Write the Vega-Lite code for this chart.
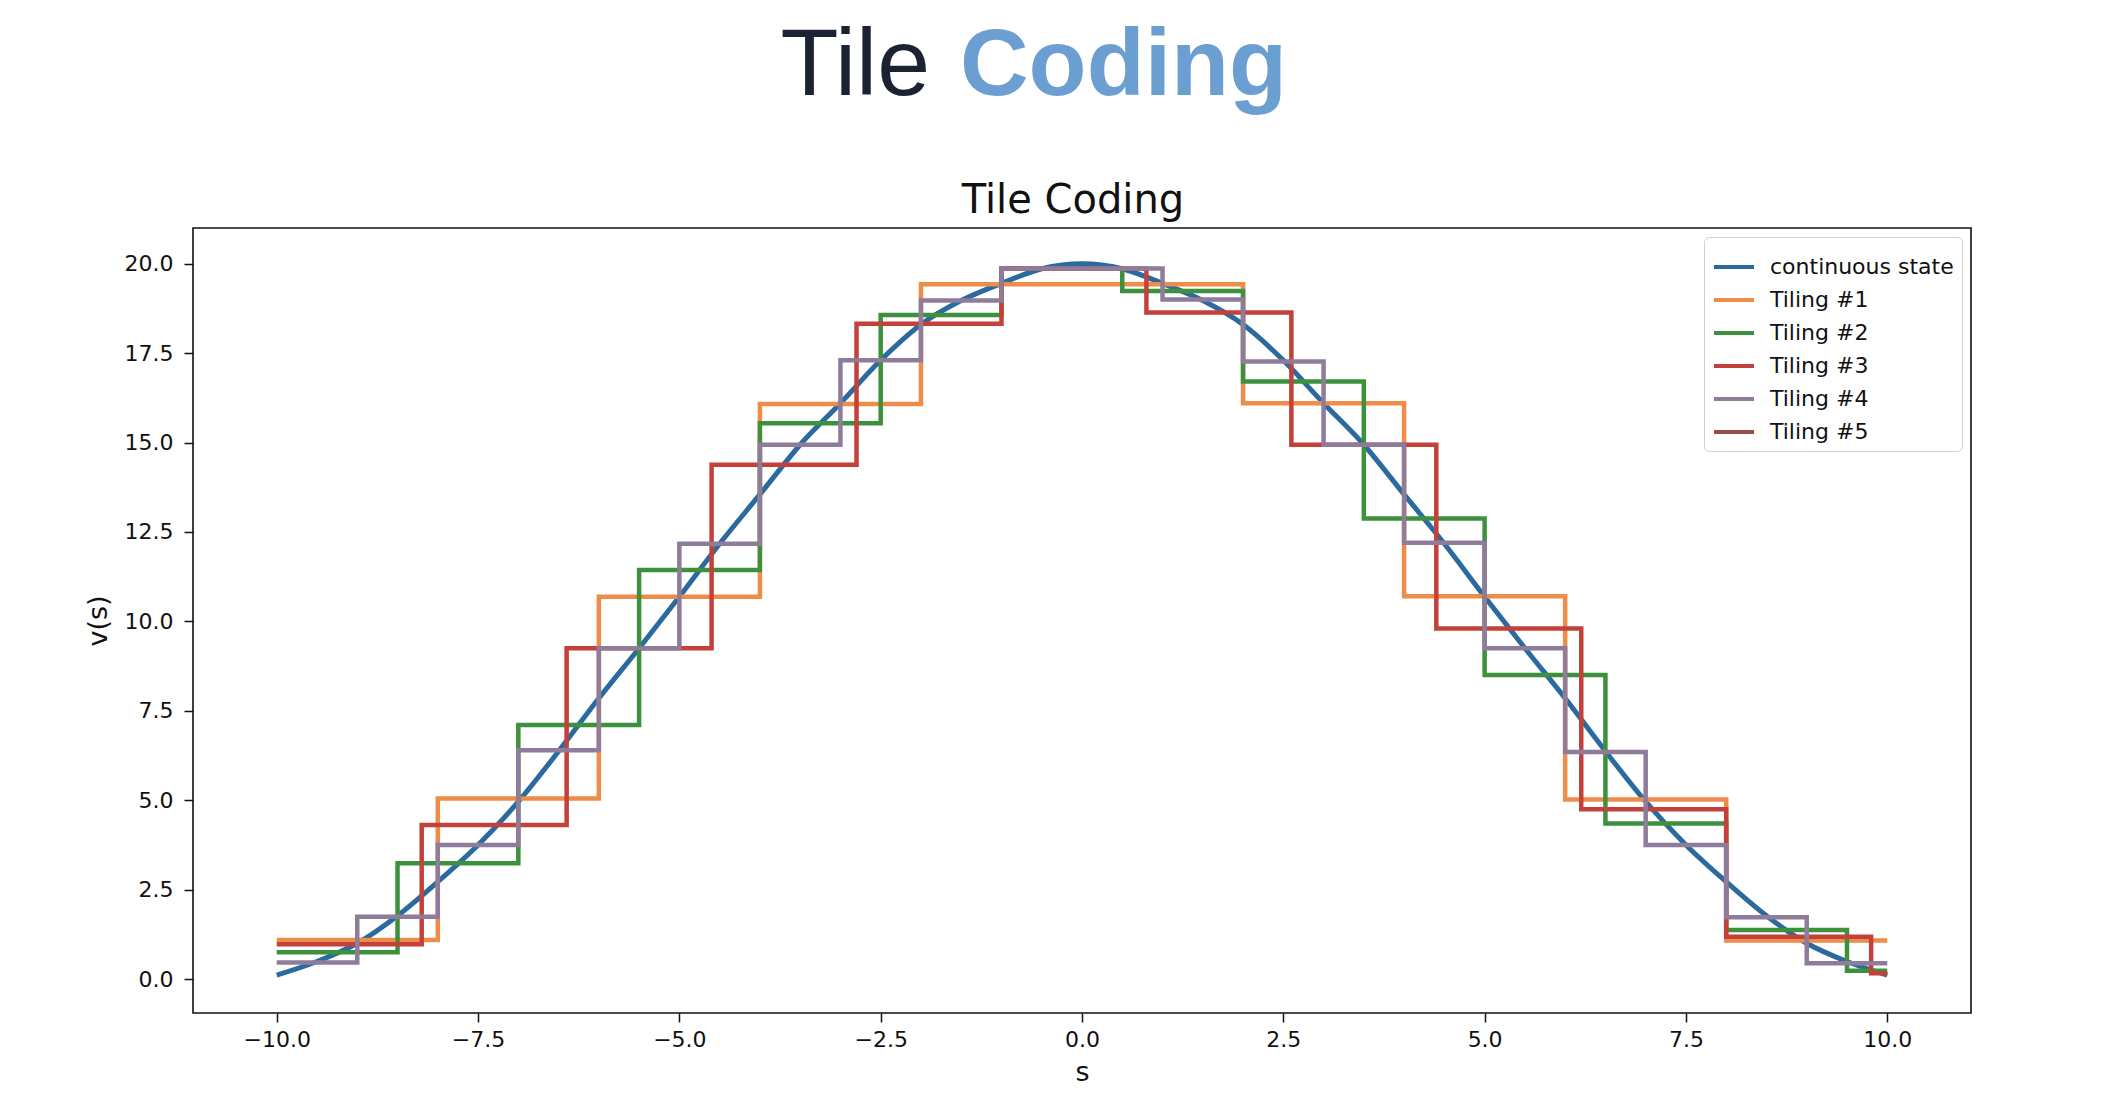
{
  "$schema": "https://vega.github.io/schema/vega-lite/v6.json",
  "background": "white",
  "padding": {"left": 83, "top": 19, "right": 140, "bottom": 24},
  "spacing": 20,
  "resolve": {"legend": {"color": "independent"}},
  "config": {
    "view": {"stroke": "#111111", "strokeWidth": 1.6},
    "axis": {
      "domain": false,
      "grid": false,
      "tickColor": "#111111",
      "tickSize": 9,
      "tickWidth": 1.5,
      "labelFont": "DejaVu Sans",
      "labelFontSize": 22,
      "labelColor": "#111111",
      "titleFont": "DejaVu Sans",
      "titleFontSize": 27,
      "titleFontWeight": "normal",
      "titleColor": "#111111"
    },
    "legend": {
      "orient": "top-right",
      "offset": 9,
      "padding": 8,
      "fillColor": "#ffffff",
      "strokeColor": "#cfcfcf",
      "cornerRadius": 5,
      "symbolType": "stroke",
      "symbolSize": 1600,
      "symbolStrokeWidth": 4,
      "labelFont": "DejaVu Sans",
      "labelFontSize": 22,
      "labelColor": "#111111",
      "labelOffset": 14,
      "labelLimit": 400,
      "rowPadding": 0
    }
  },
  "vconcat": [
    {
      "width": 1504,
      "height": 130,
      "view": {"stroke": null},
      "data": {"values": [{"word": "Tile"}, {"word": "Coding"}]},
      "layer": [
        {
          "transform": [{"filter": "datum.word === 'Tile'"}],
          "mark": {"type": "text", "align": "right", "baseline": "alphabetic", "dx": -15, "font": "Liberation Sans", "fontSize": 95, "color": "#1b2232"},
          "encoding": {"text": {"field": "word"}}
        },
        {
          "transform": [{"filter": "datum.word === 'Coding'"}],
          "mark": {"type": "text", "align": "left", "baseline": "alphabetic", "dx": 15, "font": "Liberation Sans", "fontSize": 95, "fontWeight": "bold", "color": "#6c9fd1"},
          "encoding": {"text": {"field": "word"}}
        }
      ]
    },
    {
      "width": 1778,
      "height": 785,
      "title": {"text": "Tile Coding", "font": "DejaVu Sans", "fontSize": 40, "fontWeight": "normal", "color": "#111111", "offset": 7, "dx": -9},
      "data": {
        "values": [
          {"series": "continuous state", "s": -10, "v": 0.11},
          {"series": "continuous state", "s": -9.5, "v": 0.49},
          {"series": "continuous state", "s": -9, "v": 1.0},
          {"series": "continuous state", "s": -8.5, "v": 1.77},
          {"series": "continuous state", "s": -8, "v": 2.72},
          {"series": "continuous state", "s": -7.5, "v": 3.75},
          {"series": "continuous state", "s": -7, "v": 4.96},
          {"series": "continuous state", "s": -6.5, "v": 6.37},
          {"series": "continuous state", "s": -6, "v": 7.85},
          {"series": "continuous state", "s": -5.5, "v": 9.25},
          {"series": "continuous state", "s": -5, "v": 10.69},
          {"series": "continuous state", "s": -4.5, "v": 12.17},
          {"series": "continuous state", "s": -4, "v": 13.55},
          {"series": "continuous state", "s": -3.5, "v": 14.94},
          {"series": "continuous state", "s": -3, "v": 16.1},
          {"series": "continuous state", "s": -2.5, "v": 17.3},
          {"series": "continuous state", "s": -2, "v": 18.3},
          {"series": "continuous state", "s": -1.5, "v": 18.97},
          {"series": "continuous state", "s": -1, "v": 19.45},
          {"series": "continuous state", "s": -0.5, "v": 19.86},
          {"series": "continuous state", "s": 0, "v": 20.0},
          {"series": "continuous state", "s": 0.5, "v": 19.86},
          {"series": "continuous state", "s": 1, "v": 19.45},
          {"series": "continuous state", "s": 1.5, "v": 18.97},
          {"series": "continuous state", "s": 2, "v": 18.3},
          {"series": "continuous state", "s": 2.5, "v": 17.3},
          {"series": "continuous state", "s": 3, "v": 16.1},
          {"series": "continuous state", "s": 3.5, "v": 14.94},
          {"series": "continuous state", "s": 4, "v": 13.55},
          {"series": "continuous state", "s": 4.5, "v": 12.17},
          {"series": "continuous state", "s": 5, "v": 10.69},
          {"series": "continuous state", "s": 5.5, "v": 9.25},
          {"series": "continuous state", "s": 6, "v": 7.85},
          {"series": "continuous state", "s": 6.5, "v": 6.37},
          {"series": "continuous state", "s": 7, "v": 4.96},
          {"series": "continuous state", "s": 7.5, "v": 3.75},
          {"series": "continuous state", "s": 8, "v": 2.72},
          {"series": "continuous state", "s": 8.5, "v": 1.77},
          {"series": "continuous state", "s": 9, "v": 1.0},
          {"series": "continuous state", "s": 9.5, "v": 0.49},
          {"series": "continuous state", "s": 10, "v": 0.11},

          {"series": "Tiling #1", "s": -10, "v": 1.09},
          {"series": "Tiling #1", "s": -8, "v": 5.05},
          {"series": "Tiling #1", "s": -6, "v": 10.69},
          {"series": "Tiling #1", "s": -4, "v": 16.08},
          {"series": "Tiling #1", "s": -2, "v": 19.43},
          {"series": "Tiling #1", "s": 0, "v": 19.43},
          {"series": "Tiling #1", "s": 2, "v": 16.1},
          {"series": "Tiling #1", "s": 4, "v": 10.7},
          {"series": "Tiling #1", "s": 6, "v": 5.02},
          {"series": "Tiling #1", "s": 8, "v": 1.08},
          {"series": "Tiling #1", "s": 10, "v": 1.08},

          {"series": "Tiling #2", "s": -10, "v": 0.75},
          {"series": "Tiling #2", "s": -8.5, "v": 3.24},
          {"series": "Tiling #2", "s": -7, "v": 7.1},
          {"series": "Tiling #2", "s": -5.5, "v": 11.44},
          {"series": "Tiling #2", "s": -4, "v": 15.54},
          {"series": "Tiling #2", "s": -2.5, "v": 18.57},
          {"series": "Tiling #2", "s": -1, "v": 19.87},
          {"series": "Tiling #2", "s": 0.5, "v": 19.24},
          {"series": "Tiling #2", "s": 2, "v": 16.71},
          {"series": "Tiling #2", "s": 3.5, "v": 12.88},
          {"series": "Tiling #2", "s": 5, "v": 8.5},
          {"series": "Tiling #2", "s": 6.5, "v": 4.35},
          {"series": "Tiling #2", "s": 8, "v": 1.37},
          {"series": "Tiling #2", "s": 9.5, "v": 0.23},
          {"series": "Tiling #2", "s": 10, "v": 0.23},

          {"series": "Tiling #3", "s": -10, "v": 0.97},
          {"series": "Tiling #3", "s": -8.2, "v": 4.31},
          {"series": "Tiling #3", "s": -6.4, "v": 9.25},
          {"series": "Tiling #3", "s": -4.6, "v": 14.38},
          {"series": "Tiling #3", "s": -2.8, "v": 18.32},
          {"series": "Tiling #3", "s": -1.0, "v": 19.87},
          {"series": "Tiling #3", "s": 0.8, "v": 18.64},
          {"series": "Tiling #3", "s": 2.6, "v": 14.94},
          {"series": "Tiling #3", "s": 4.4, "v": 9.8},
          {"series": "Tiling #3", "s": 6.2, "v": 4.75},
          {"series": "Tiling #3", "s": 8.0, "v": 1.18},
          {"series": "Tiling #3", "s": 9.8, "v": 0.16},
          {"series": "Tiling #3", "s": 10, "v": 0.16},

          {"series": "Tiling #4", "s": -10, "v": 0.46},
          {"series": "Tiling #4", "s": -9, "v": 1.74},
          {"series": "Tiling #4", "s": -8, "v": 3.75},
          {"series": "Tiling #4", "s": -7, "v": 6.4},
          {"series": "Tiling #4", "s": -6, "v": 9.25},
          {"series": "Tiling #4", "s": -5, "v": 12.17},
          {"series": "Tiling #4", "s": -4, "v": 14.94},
          {"series": "Tiling #4", "s": -3, "v": 17.3},
          {"series": "Tiling #4", "s": -2, "v": 18.97},
          {"series": "Tiling #4", "s": -1, "v": 19.87},
          {"series": "Tiling #4", "s": 0, "v": 19.87},
          {"series": "Tiling #4", "s": 1, "v": 19.0},
          {"series": "Tiling #4", "s": 2, "v": 17.27},
          {"series": "Tiling #4", "s": 3, "v": 14.94},
          {"series": "Tiling #4", "s": 4, "v": 12.2},
          {"series": "Tiling #4", "s": 5, "v": 9.25},
          {"series": "Tiling #4", "s": 6, "v": 6.35},
          {"series": "Tiling #4", "s": 7, "v": 3.75},
          {"series": "Tiling #4", "s": 8, "v": 1.73},
          {"series": "Tiling #4", "s": 9, "v": 0.44},
          {"series": "Tiling #4", "s": 10, "v": 0.44}
        ]
      },
      "encoding": {
        "x": {
          "field": "s",
          "type": "quantitative",
          "scale": {"domain": [-11.04, 11.04], "nice": false, "zero": false},
          "axis": {"values": [-10, -7.5, -5, -2.5, 0, 2.5, 5, 7.5, 10], "format": ".1f", "labelPadding": 7, "titlePadding": 9, "title": "s"}
        },
        "y": {
          "field": "v",
          "type": "quantitative",
          "scale": {"domain": [-0.95, 21.0], "nice": false, "zero": false},
          "axis": {"values": [0, 2.5, 5, 7.5, 10, 12.5, 15, 17.5, 20], "format": ".1f", "labelPadding": 11, "titlePadding": 12, "title": "v(s)"}
        },
        "color": {
          "field": "series",
          "type": "nominal",
          "scale": {
            "domain": ["continuous state", "Tiling #1", "Tiling #2", "Tiling #3", "Tiling #4", "Tiling #5"],
            "range": ["#2a6a9e", "#ee8c4a", "#3d913d", "#c3413a", "#8e7c9a", "#9c4b45"]
          },
          "legend": {"title": null}
        }
      },
      "layer": [
        {
          "transform": [{"filter": "datum.series === 'continuous state'"}],
          "mark": {"type": "line", "interpolate": "monotone", "strokeWidth": 5}
        },
        {
          "transform": [{"filter": "datum.series !== 'continuous state'"}],
          "mark": {"type": "line", "interpolate": "step-after", "strokeWidth": 4.5}
        }
      ]
    }
  ]
}
